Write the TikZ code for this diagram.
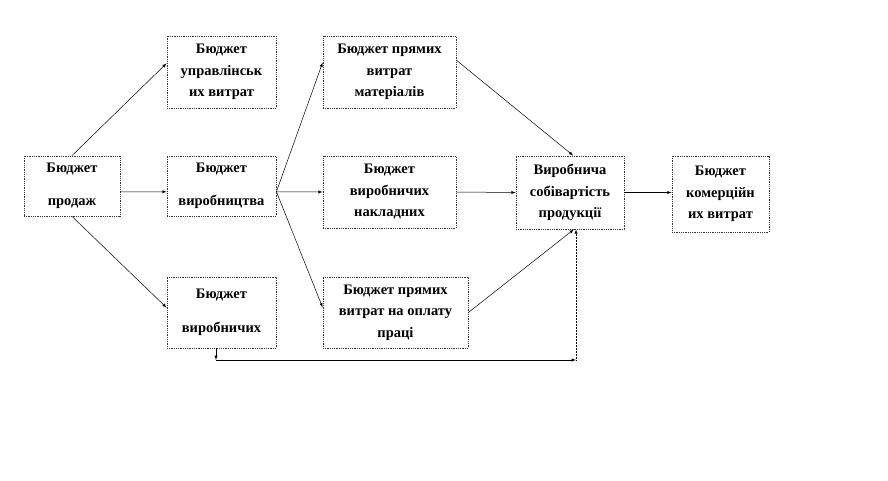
\documentclass[tikz,border=0pt]{standalone}
\usepackage{fontspec}
\setmainfont{Liberation Serif}
\usetikzlibrary{arrows}
\tikzset{arrow/.style={->, >=latex, line width=0.5pt}}
\tikzset{budget/.style={draw=black!80, densely dotted, line width=0.8pt, align=center,
    inner sep=0pt, font=\bfseries\fontsize{14.5}{21.5}\selectfont}}

\begin{document}
\begin{tikzpicture}[x=1pt, y=1pt]
    \useasboundingbox[fill=white] (0, 0) rectangle (888, 480);
    \node[budget, minimum width=96pt, minimum height=60pt] (prod) at (72, 294) {Бюджет\\[12pt]продаж};
    \node[budget, minimum width=109pt, minimum height=72pt] (upr) at (221.5, 408) {Бюджет\\управлінськ\\их витрат};
    \node[budget, minimum width=109pt, minimum height=60pt] (vyrob) at (221.5, 294) {Бюджет\\[12pt]виробництва};
    \node[budget, minimum width=109pt, minimum height=71pt] (zap) at (221.5, 167.5) {Бюджет\\[12pt]виробничих};
    \node[budget, minimum width=133pt, minimum height=72pt] (mat) at (389.5, 408) {Бюджет прямих\\витрат\\матеріалів};
    \node[budget, minimum width=133pt, minimum height=72pt] (nakl) at (389.5, 288) {Бюджет\\виробничих\\накладних};
    \node[budget, minimum width=145pt, minimum height=71pt] (prac) at (395.5, 167.5) {Бюджет прямих\\витрат на оплату\\праці};
    \node[budget, minimum width=108pt, minimum height=73pt] (sob) at (570, 287.5) {Виробнича\\собівартість\\продукції};
    \node[budget, minimum width=97pt, minimum height=76pt] (kom) at (720.5, 286) {Бюджет\\комерційн\\их витрат};
    \coordinate (loopL) at (216, 120);
    \coordinate (loopR) at (576, 120);
    \draw[arrow] (prod.north) -- (upr.171);
    \draw[arrow] (prod.-7) -- (vyrob.186);
    \draw[arrow] (prod.south) -- (zap.175);
    \draw[arrow] (vyrob.-6) -- (mat.172);
    \draw[arrow] (vyrob.-6) -- (nakl.west);
    \draw[arrow] (vyrob.-6) -- (prac.176);
    \draw[arrow] (mat.10) -- (sob.85);
    \draw[arrow] (nakl.east) -- (sob.west);
    \draw[arrow] (prac.east) -- (sob.-84);
    \draw[arrow] (sob.east) -- (sob.east -| kom.west);
    \draw[arrow] (zap.south -| loopL) -- (loopL);
    \draw[arrow] (loopL) -- (loopR);
    \draw[arrow, densely dotted] (loopR) -- (loopR |- sob.south);
\end{tikzpicture}
\end{document}
